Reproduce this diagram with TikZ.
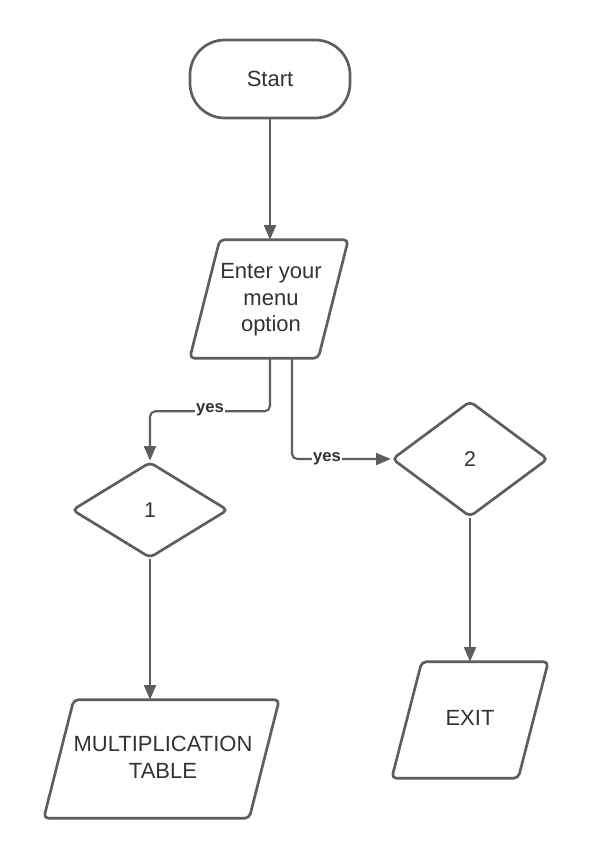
\documentclass[tikz,border=0pt]{standalone}
\usepackage{fontspec}
\setmainfont{Liberation Sans}
\usetikzlibrary{shapes.geometric,arrows.meta}
\definecolor{lc}{HTML}{5E5E5E}
\definecolor{tc}{HTML}{333333}
\begin{document}
\begin{tikzpicture}[x=0.75pt,y=-0.75pt,
  box/.style={draw=lc,line width=2pt,fill=white,text=tc,inner sep=0pt,align=center,
    font=\fontsize{16.5}{20}\selectfont},
  term/.style={box,rectangle,rounded corners=26pt,minimum width=120pt,minimum height=58.5pt},
  para/.style={rectangle,text=tc,inner sep=0pt,align=center,font=\fontsize{16.5}{20}\selectfont},
  pline/.style={draw=lc,line width=2pt,fill=white,rounded corners=3.5pt,line join=round},
  dec/.style={box,diamond,rounded corners=3.5pt},
  conn/.style={draw=lc,line width=1.6pt,rounded corners=4pt,
    -{Triangle[length=11pt,width=9pt]}},
  lab/.style={fill=white,text=tc,inner sep=1pt,font=\bfseries\fontsize{12.5}{14}\selectfont}]
\useasboundingbox (0,0) rectangle (590,860);
\fill[white] (0,0) rectangle (590,860);

\node[term] (start) at (270,79) {Start};
\node[para,minimum width=118.5pt,minimum height=88.5pt] (enter) at (269,299) {};
\node[dec,minimum width=117pt,minimum height=72pt,font=\fontsize{16}{18}\selectfont] (d1) at (150,510) {1};
\node[dec,minimum width=117pt,minimum height=87pt,font=\fontsize{16}{18}\selectfont] (d2) at (470,459) {2};
\node[para,minimum width=176.25pt,minimum height=88.5pt] (mult) at (161.5,759) {};
\node[para,minimum width=117pt,minimum height=87pt] (exit) at (470,720) {};

\foreach \n in {enter,mult,exit}{
  \path[pline] ([xshift=22.5pt]\n.north west) -- (\n.north east)
     -- ([xshift=-22.5pt]\n.south east) -- (\n.south west) -- cycle;
}
\node[para] (enterT) at (271,300) {Enter your\\menu\\option};
\node[para] (multT) at (163,757) {MULTIPLICATION\\TABLE};
\node[para] (exitT) at (470,718) {EXIT};

\draw[conn] (start.south) -- (enter.north -| start.south);
\draw[conn] ([xshift=0.75pt]enter.south) -- ++(0,53) -| (d1.north);
\draw[conn] ([xshift=17.25pt]enter.south) |- (d2.west);
\draw[conn] (d1.south) -- (d1.south |- mult.north);
\draw[conn] (d2.south) -- (exit.north);

\node[lab] (y1) at (210,410) {yes};
\node[lab] (y2) at (327,459) {yes};
\end{tikzpicture}
\end{document}
